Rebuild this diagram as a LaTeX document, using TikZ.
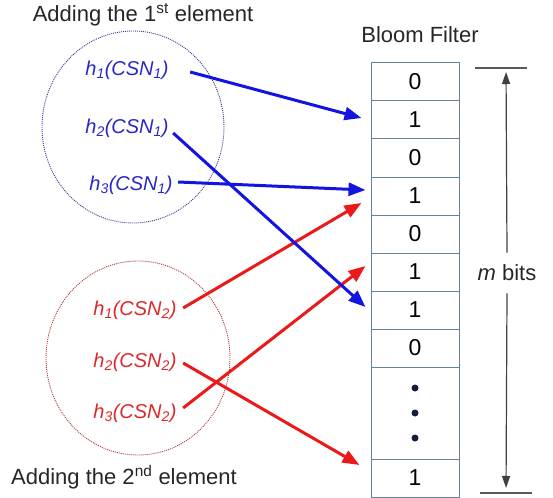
\documentclass[tikz,border=0pt]{standalone}
\usepackage{fontspec}
\setmainfont{Liberation Sans}
\usetikzlibrary{arrows.meta,calc}
\definecolor{bl}{RGB}{20,20,225}
\definecolor{rd}{RGB}{235,25,25}
\definecolor{bltext}{RGB}{40,40,200}
\definecolor{rdtext}{RGB}{220,40,40}
\definecolor{bcircle}{RGB}{60,60,150}
\definecolor{rcircle}{RGB}{170,60,60}
\definecolor{cellc}{RGB}{100,130,160}
\definecolor{dotc}{RGB}{20,30,60}
\begin{document}
\begin{tikzpicture}[x=1pt,y=-1pt,
  cell/.style={draw=cellc,line width=1pt,minimum width=88pt,minimum height=38pt,inner sep=0pt,font=\fontsize{23}{23}\selectfont},
  title/.style={font=\fontsize{22}{24}\selectfont,text=black!85},
  blab/.style={font=\fontsize{20}{22}\selectfont\itshape,text=bltext},
  rlab/.style={font=\fontsize{20}{22}\selectfont\itshape,text=rdtext},
  barr/.style={draw=bl,line width=3pt,-{Triangle[length=17pt,width=13pt]}},
  rarr/.style={draw=rd,line width=3pt,-{Triangle[length=17pt,width=13pt]}},
  circ/.style={line width=0.9pt,dash pattern=on 1pt off 1pt},
  tick/.style={draw=black!65,line width=1.5pt},
  marr/.style={draw=black!75,line width=1.2pt,-{Triangle[length=12pt,width=8pt]}}
]
\useasboundingbox (0,0) rectangle (553,497);

% titles
\node[title] (t1) at (143,15) {Adding the 1\textsuperscript{st} element};
\node[title] (t2) at (124,477) {Adding the 2\textsuperscript{nd} element};
\node[title] (tb) at (420,35) {Bloom Filter};

% circles
\draw[circ,draw=bcircle] (133,127) ellipse [x radius=91pt, y radius=96pt];
\draw[circ,draw=rcircle] (138,358) ellipse [x radius=92pt, y radius=97pt];

% bloom filter cells
\node[cell] (c0) at (415,82) {0};
\node[cell] (c1) at (415,120) {1};
\node[cell] (c2) at (415,158) {0};
\node[cell] (c3) at (415,196) {1};
\node[cell] (c4) at (415,234) {0};
\node[cell] (c5) at (415,272) {1};
\node[cell] (c6) at (415,310) {1};
\node[cell] (c7) at (415,348) {0};
\node[cell,minimum height=92pt] (cd) at (415,413) {};
\node[cell] (c9) at (415,478) {1};
\fill[dotc] ($(cd.center)+(0,-25)$) circle (3.5pt);
\fill[dotc] (cd.center) circle (3.5pt);
\fill[dotc] ($(cd.center)+(0,25)$) circle (3.5pt);

% m bits
\coordinate (tt) at (506,68);
\coordinate (tbm) at (506,493);
\draw[tick] (475,68) -- (527,68);
\draw[tick] (480,493) -- (532,493);
\node[font=\fontsize{22}{24}\selectfont,text=black!85,inner ysep=12pt] (mb) at (507,273) {\textit{m} bits};
\draw[marr,shorten >=4pt] (mb.north) -- (tt);
\draw[marr,shorten >=5pt] (mb.south) -- (tbm);

% labels
\node[blab] (b1) at (127,70) {h\textsubscript{1}(CSN\textsubscript{1})};
\node[blab] (b2) at (127,128) {h\textsubscript{2}(CSN\textsubscript{1})};
\node[blab] (b3) at (131,185) {h\textsubscript{3}(CSN\textsubscript{1})};
\node[rlab] (r1) at (135,310) {h\textsubscript{1}(CSN\textsubscript{2})};
\node[rlab] (r2) at (135,362) {h\textsubscript{2}(CSN\textsubscript{2})};
\node[rlab] (r3) at (135,413) {h\textsubscript{3}(CSN\textsubscript{2})};

% red arrows
\draw[rarr] ($(r1.east)+(3,-2)$) -- ($(c3.west)+(-9,7)$);
\draw[rarr] ($(r2.east)+(3,1)$) -- ($(c9.west)+(-11,-13)$);
\draw[rarr] ($(r3.east)+(3,-5)$) -- ($(c5.west)+(-5,-6)$);

% blue arrows
\draw[barr] ($(b1.east)+(18,2)$) -- ($(c1.west)+(-9,-2)$);
\draw[barr] ($(b2.east)+(1,5)$) -- ($(c6.west)+(-5,-3)$);
\draw[barr] ($(b3.east)+(2,-3)$) -- ($(c3.west)+(-5,-6)$);
\end{tikzpicture}
\end{document}
